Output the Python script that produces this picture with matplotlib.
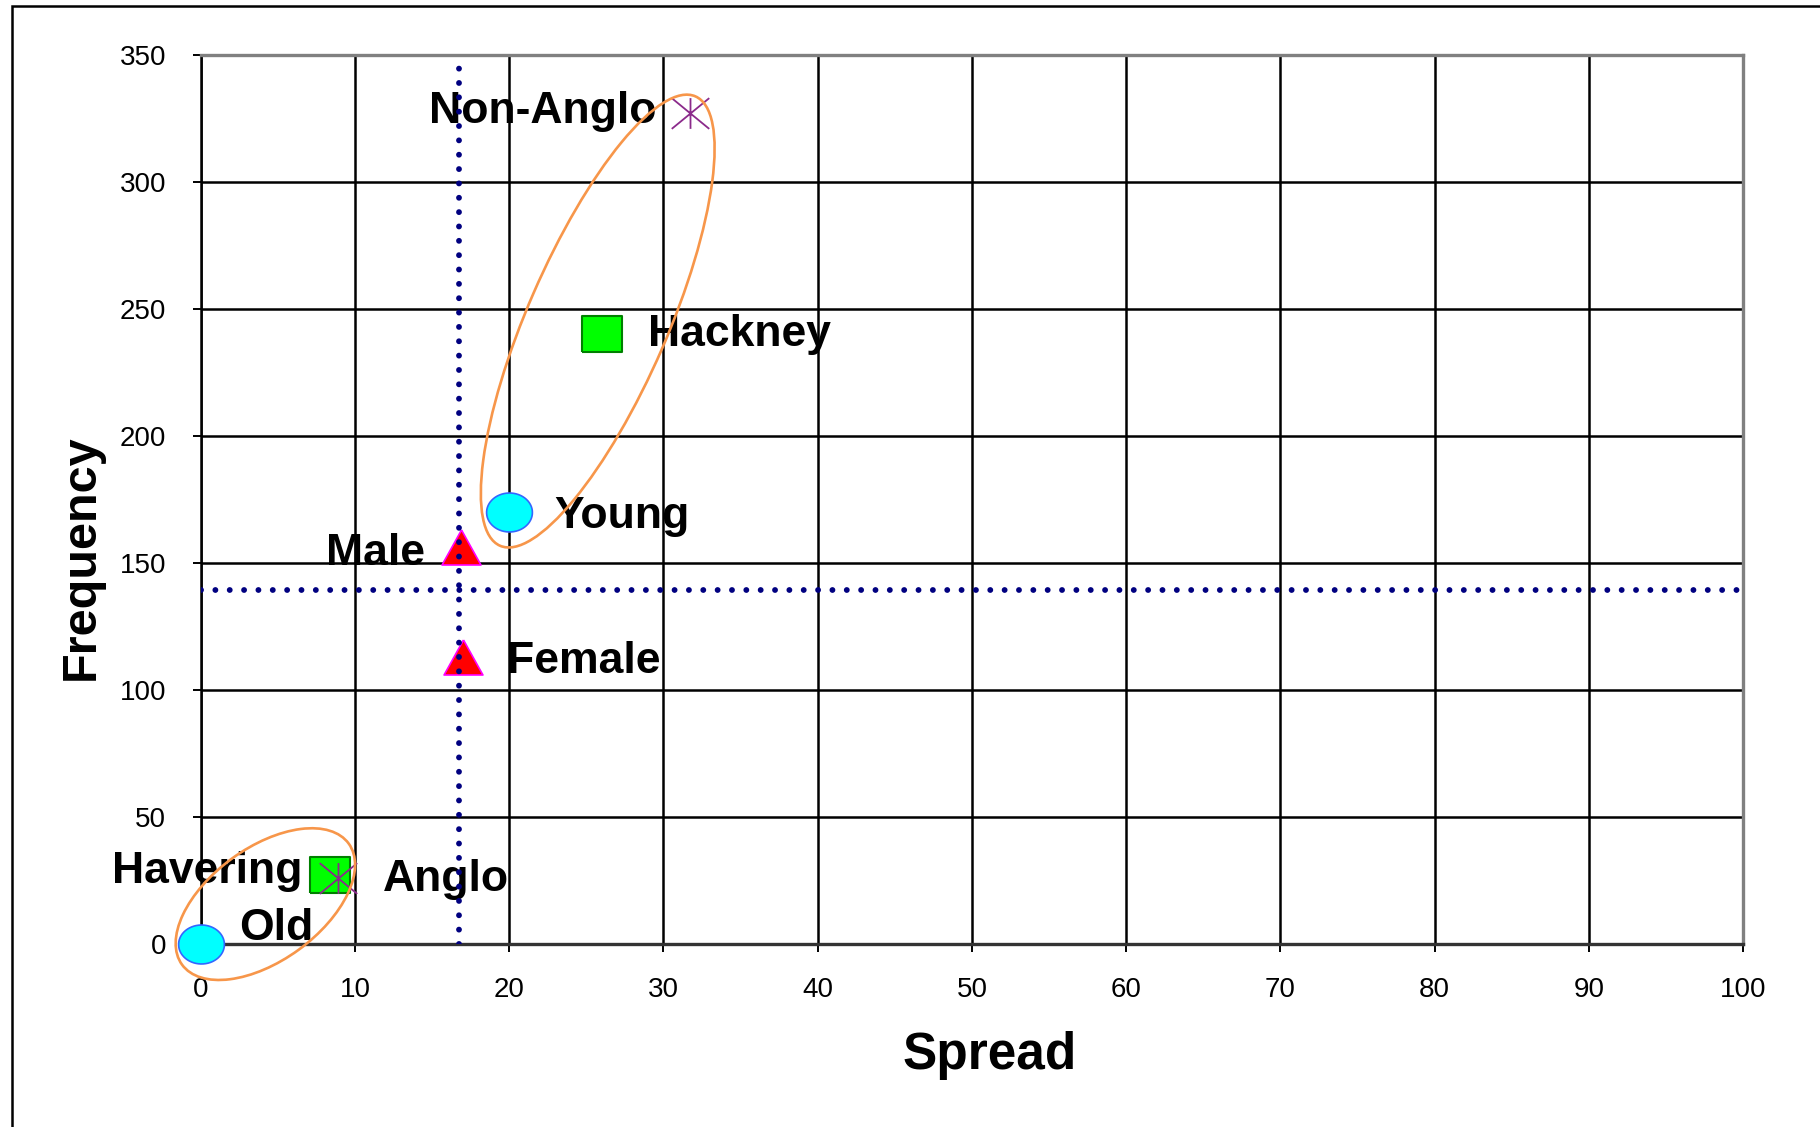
import matplotlib
matplotlib.use("Agg")
import matplotlib.pyplot as plt
import numpy as np
from matplotlib.path import Path
from matplotlib.patches import Ellipse, Rectangle
from matplotlib.transforms import ScaledTranslation

plt.rcParams['font.family'] = ['Liberation Sans', 'DejaVu Sans']

# points: spread vs frequency per sub-group
labels    = ["Old", "Young", "Male", "Female", "Havering", "Hackney", "Anglo", "Non-Anglo"]
spread    = [0, 20, 16.9, 17, 8.4, 26, 8.9, 31.7]
frequency = [0, 170, 156, 113, 27, 240, 26, 327]
groups    = ["age", "age", "sex", "sex", "borough", "borough", "ethnicity", "ethnicity"]

# means (dotted reference lines)
mean_spread = 16.75
mean_freq = 139.2

x_ticks = [0, 10, 20, 30, 40, 50, 60, 70, 80, 90, 100]
y_ticks = [0, 50, 100, 150, 200, 250, 300, 350]

# label placement, offset in pixels from the point + alignment
label_pos = {
    "Old":       (38, 4, "left"),
    "Young":     (45, -16, "left"),
    "Male":      (-36, -18, "right"),
    "Female":    (44, -16, "left"),
    "Havering":  (-28, -8, "right"),
    "Hackney":   (46, -12, "left"),
    "Anglo":     (45, -13, "left"),
    "Non-Anglo": (-33, -10, "right"),
}


def stretched(verts, codes=None):
    return Path(np.array(verts), codes)


t = np.linspace(0, 2 * np.pi, 60)
oval = stretched(np.column_stack([np.cos(t), 0.85 * np.sin(t)]))
box = stretched([(-1, -0.875), (1, -0.875), (1, 0.875), (-1, 0.875), (-1, -0.875)])
tri = stretched([(0, 0.9), (-1, -0.9), (1, -0.9), (0, 0.9)])
star = stretched([(0, -0.82), (0, 0.82), (-1, -0.82), (1, 0.82), (-1, 0.82), (1, -0.82)],
                 [Path.MOVETO, Path.LINETO] * 3)

styles = {
    "age":       dict(marker=oval, ms=33, mfc="#00FFFF", mec="#3366FF", mew=1.2),
    "sex":       dict(marker=tri, ms=28, mfc="#FF0000", mec="#FF00FF", mew=1.2),
    "borough":   dict(marker=box, ms=29, mfc="#00FF00", mec="#008000", mew=1.5),
    "ethnicity": dict(marker=star, ms=27, mfc="none", mec="#8B2A8B", mew=1.3),
}

fig = plt.figure(figsize=(18.2, 11.27), dpi=100)
ax = fig.add_axes([0.1103, 0.1626, 0.8474, 0.789])

ax.set_xlim(0, 100)
ax.set_ylim(0, 350)
ax.set_xticks(x_ticks)
ax.set_yticks(y_ticks)
ax.tick_params(labelsize=20, length=6, width=1.4, color="black", pad=19)
ax.tick_params(axis="x", pad=18)
ax.grid(True, color="black", linewidth=1.8)
ax.set_axisbelow(True)

for side in ["top", "right"]:
    ax.spines[side].set_color("#808080")
    ax.spines[side].set_linewidth(2.4)
ax.spines["left"].set_color("black")
ax.spines["left"].set_linewidth(1.8)
ax.spines["bottom"].set_color("#333333")
ax.spines["bottom"].set_linewidth(2.4)

for g in ["age", "sex", "borough", "ethnicity"]:
    xs = [x for x, gg in zip(spread, groups) if gg == g]
    ys = [y for y, gg in zip(frequency, groups) if gg == g]
    ax.plot(xs, ys, linestyle="none", clip_on=False, zorder=3, **styles[g])

for name, x, y in zip(labels, spread, frequency):
    dx, dy, ha = label_pos[name]
    ax.annotate(name, (x, y), xytext=(dx, dy), textcoords="offset pixels",
                ha=ha, va="baseline", fontsize=32, fontweight="bold",
                color="black", zorder=4, annotation_clip=False)

# dotted mean lines
dots = dict(color="#000080", linewidth=4.2, linestyle=(0, (0.01, 2.45)),
            dash_capstyle="round", zorder=5)
ax.axvline(mean_spread, **dots)
ax.axhline(mean_freq, **dots)

# hand-drawn style rings around the extreme groups (sizes in pixels)
rings = [
    ((25.74, 245.1), 490, 140, 66.5),
    ((4.19, 15.6), 206, 113, 36),
]
for (cx, cy), w, h, ang in rings:
    e = Ellipse((0, 0), w, h, angle=ang, fill=False, edgecolor="#F7964A",
                linewidth=1.9, transform=ScaledTranslation(cx, cy, ax.transData),
                clip_on=False, zorder=6)
    ax.add_artist(e)

fig.text(990 / 1820, 1 - 1056 / 1127, "Spread", ha="center", va="center",
         fontsize=37, fontweight="bold")
fig.text(81 / 1820, 1 - 557 / 1127, "Frequency", ha="center", va="center",
         rotation=90, fontsize=35, fontweight="bold")

# chart frame
fig.add_artist(Rectangle((11.6 / 1820, -0.5), 2, 1.5 - 6 / 1127, fill=False,
                         edgecolor="black", linewidth=1.8,
                         transform=fig.transFigure))

fig.savefig("out.png", dpi=100)
